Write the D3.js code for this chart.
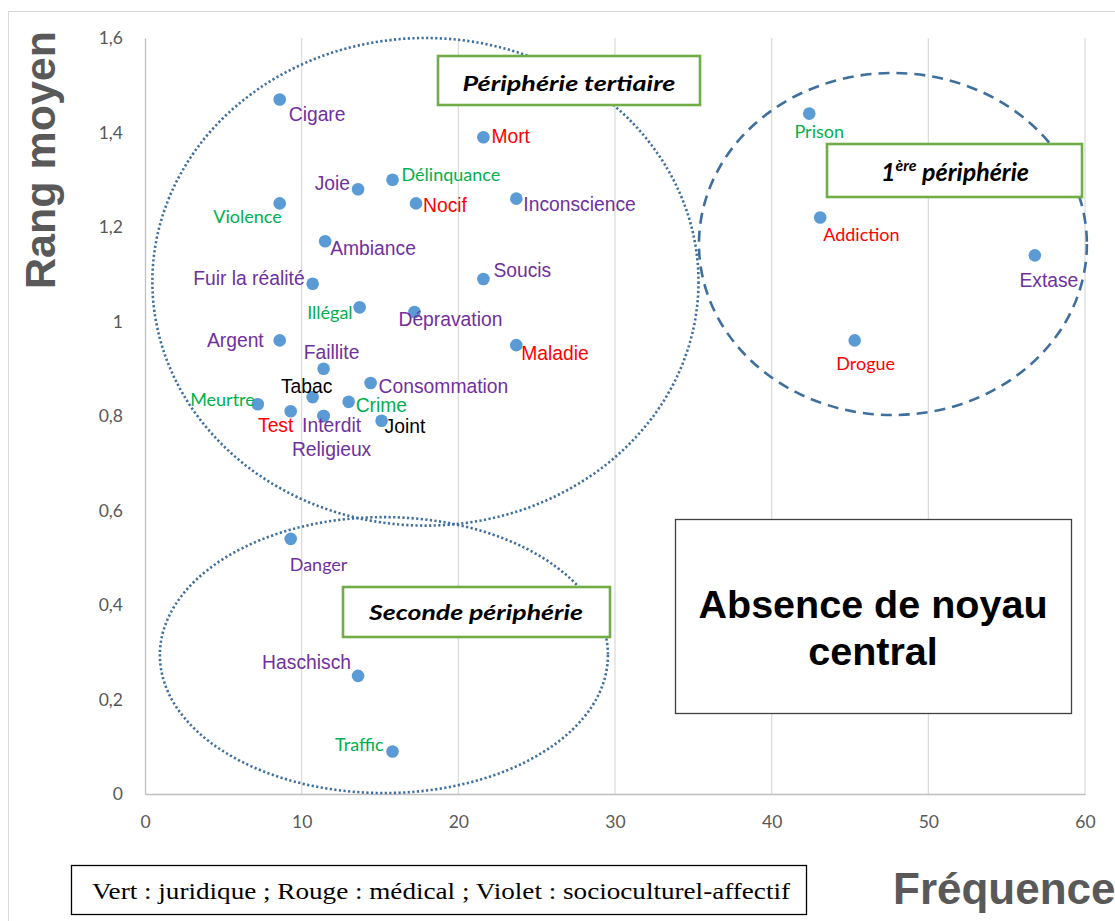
<!DOCTYPE html>
<html><head><meta charset="utf-8">
<script src="https://cdn.jsdelivr.net/npm/d3@7/dist/d3.min.js"></script>
<style>body{margin:0;background:#fff}svg{display:block}</style>
</head><body>
<svg id="chart" width="1115" height="921"></svg>
<script>
// ---------- DATA ----------
const terms = ["Cigare","Joie","Délinquance","Mort","Nocif","Inconscience","Violence","Ambiance","Fuir la réalité","Soucis","Illégal","Dépravation","Argent","Maladie","Faillite","Consommation","Tabac","Meurtre","Test","Crime","Interdit","Religieux","Joint","Danger","Haschisch","Traffic","Prison","Addiction","Drogue","Extase"];
const frequence = [8.6,13.6,15.8,21.6,17.3,23.7,8.6,11.5,10.7,21.6,13.7,17.2,8.6,23.7,11.4,14.4,10.7,7.2,9.3,13.0,11.4,11.4,15.1,9.3,13.6,15.8,42.4,43.1,45.3,56.8];
const rangMoyen = [1.47,1.28,1.30,1.39,1.25,1.26,1.25,1.17,1.08,1.09,1.03,1.02,0.96,0.95,0.90,0.87,0.84,0.825,0.81,0.83,0.80,0.80,0.79,0.54,0.25,0.09,1.44,1.22,0.96,1.14];
const domaine = ["socio","socio","jur","med","med","socio","jur","socio","socio","socio","jur","socio","socio","med","socio","socio","autre","jur","med","jur","socio","socio","autre","socio","socio","jur","jur","med","med","socio"];
const xTicks = [0,10,20,30,40,50,60];
const yTicks = [0,0.2,0.4,0.6,0.8,1,1.2,1.4,1.6];
const legendText = "Vert : juridique ; Rouge : médical ; Violet : socioculturel-affectif";
const zoneNames = ["Périphérie tertiaire","1ère périphérie","Seconde périphérie"];

// ---------- LAYOUT / STYLE ----------
const colorOf = {jur:"#00b050", med:"#ff0000", socio:"#7030a0", autre:"#000000"};
// label placement: [anchor, dx, dy, fontType]
const labelPos = [
 ["start",9,15,"a"],["end",-8,-6,"a"],["start",9,-6,"c"],["start",8,-1,"a"],["start",7,2,"a"],
 ["start",7,6,"a"],["end",2,13,"c"],["start",5,7,"a"],["end",-8,-5,"a"],["start",10,-8,"a"],
 ["end",-7,5,"c"],["start",-16,7,"a"],["end",-16,0,"a"],["start",5,8,"a"],["middle",8,-16,"a"],
 ["start",8,4,"a"],["middle",-6,-11,"a"],["end",-3,-5,"c"],["middle",-15,14,"a"],["start",7,4,"a"],
 ["middle",8,9,"a"],["middle",8,33,"a"],["start",3,6,"a"],["start",-1,25,"c"],["end",-7,-13,"a"],
 ["end",-9,-7,"c"],["middle",10,17,"c"],["start",3,16,"c"],["middle",11,23,"c"],["middle",14,25,"a"]
];

const svg = d3.select("#chart");
const x = d3.scaleLinear().domain([0,60]).range([145,1085]);
const y = d3.scaleLinear().domain([0,1.6]).range([794,38]);

// outer chart frame
svg.append("rect").attr("x",8.5).attr("y",11.5).attr("width",1120).attr("height",920)
  .attr("fill","none").attr("stroke","#d9d9d9");

// vertical gridlines
svg.append("g").selectAll("line").data(xTicks.filter(d=>d>0)).join("line")
  .attr("x1",d=>x(d)).attr("x2",d=>x(d)).attr("y1",y(1.6)).attr("y2",y(0))
  .attr("stroke","#d9d9d9").attr("stroke-width",1.2);

// axes
const xAxis = svg.append("g").attr("transform",`translate(0,${y(0)})`)
  .call(d3.axisBottom(x).tickValues(xTicks).tickSize(0).tickPadding(22).tickFormat(d3.format("d")));
const yAxis = svg.append("g").attr("transform",`translate(${x(0)},0)`)
  .call(d3.axisLeft(y).tickValues(yTicks).tickSize(0).tickPadding(22)
    .tickFormat(d=>String(+d.toFixed(1)).replace(".",",")));
[xAxis,yAxis].forEach(g=>{
  g.select(".domain").attr("stroke","#bfbfbf").attr("stroke-width",1.3);
  g.selectAll("text").attr("fill","#595959").attr("font-family","Lato, 'Open Sans', sans-serif").attr("font-size",17.5);
});

// axis titles
svg.append("text").attr("transform","translate(55,160) rotate(-90)").attr("text-anchor","middle")
  .attr("font-family","'Liberation Sans', Arial, sans-serif").attr("font-weight","bold")
  .attr("font-size",43).attr("fill","#595959").text("Rang moyen");
svg.append("text").attr("x",893).attr("y",904)
  .attr("font-family","'Liberation Sans', Arial, sans-serif").attr("font-weight","bold")
  .attr("font-size",44).attr("fill","#595959").text("Fréquence");

// ellipses (data units)
const ellipses = [
  {cx:17.9, cy:1.084, rx:17.43, ry:0.516, dash:"2.2,2.4", w:2.6},
  {cx:15.25, cy:0.294, rx:14.3, ry:0.292, dash:"2.2,2.4", w:2.6},
  {cx:47.74, cy:1.164, rx:12.38, ry:0.362, dash:"11,7", w:2.6}
];
svg.append("g").selectAll("ellipse").data(ellipses).join("ellipse")
  .attr("cx",d=>x(d.cx)).attr("cy",d=>y(d.cy))
  .attr("rx",d=>x(d.rx)-x(0)).attr("ry",d=>y(0)-y(d.ry))
  .attr("fill","none").attr("stroke","#3f6f9e").attr("stroke-width",d=>d.w)
  .attr("stroke-dasharray",d=>d.dash);

// zone boxes
const zoneBoxes = [
  {x0:438,y0:56,x1:700,y1:105, tx:569, ty:91, len:213},
  {x0:827,y0:144,x1:1082,y1:197, tx:955, ty:181, len:156},
  {x0:343,y0:587,x1:610,y1:637, tx:476, ty:620, len:214}
];
zoneBoxes.forEach((b,i)=>{
  svg.append("rect").attr("x",b.x0).attr("y",b.y0).attr("width",b.x1-b.x0).attr("height",b.y1-b.y0)
    .attr("fill","#fff").attr("stroke","#70ad47").attr("stroke-width",2.6);
  const t = svg.append("text").attr("x",b.tx).attr("y",b.ty).attr("text-anchor","middle")
    .attr("font-family","Lato, 'Open Sans', sans-serif").attr("font-weight","bold")
    .attr("font-style","italic").attr("font-size",i===1?25:21).attr("fill","#000");
  if(i===1){
    t.append("tspan").text("1");
    t.append("tspan").attr("font-size",16).attr("dy",-10).text("ère");
    t.append("tspan").attr("dy",10).text(" périphérie");
  } else {
    t.attr("textLength",b.len).attr("lengthAdjust","spacingAndGlyphs").text(zoneNames[i]);
  }
});

// absence box
svg.append("rect").attr("x",675.5).attr("y",519.5).attr("width",396).attr("height",194)
  .attr("fill","#fff").attr("stroke","#404040").attr("stroke-width",1.3);
const abs = svg.append("text").attr("text-anchor","middle")
  .attr("font-family","'Liberation Sans', Arial, sans-serif").attr("font-weight","bold")
  .attr("font-size",39.5).attr("fill","#000");
abs.append("tspan").attr("x",873).attr("y",618).text("Absence de noyau");
abs.append("tspan").attr("x",873).attr("y",665).text("central");

// points
const pts = terms.map((t,i)=>({t, f:frequence[i], r:rangMoyen[i], d:domaine[i], p:labelPos[i]}));
svg.append("g").selectAll("circle").data(pts).join("circle")
  .attr("cx",d=>x(d.f)).attr("cy",d=>y(d.r)).attr("r",6.3).attr("fill","#5b9bd5");

// labels
svg.append("g").selectAll("text").data(pts).join("text")
  .attr("x",d=>x(d.f)+d.p[1]).attr("y",d=>y(d.r)+d.p[2])
  .attr("text-anchor",d=>d.p[0]).attr("dominant-baseline","central")
  .attr("font-family",d=>d.p[3]==="a"?"'Liberation Sans', Arial, sans-serif":"Lato, 'Open Sans', sans-serif")
  .attr("font-size",d=>d.p[3]==="a"?19.3:18)
  .attr("fill",d=>colorOf[d.d]).text(d=>d.t);

// legend box
svg.append("rect").attr("x",71.5).attr("y",865.5).attr("width",735).attr("height",49)
  .attr("fill","#fff").attr("stroke","#000").attr("stroke-width",1.3);
svg.append("text").attr("x",92).attr("y",899)
  .attr("font-family","'Liberation Serif', 'Times New Roman', serif").attr("font-size",23)
  .attr("textLength",698).attr("lengthAdjust","spacingAndGlyphs")
  .attr("fill","#000").text(legendText);
</script>
</body></html>
